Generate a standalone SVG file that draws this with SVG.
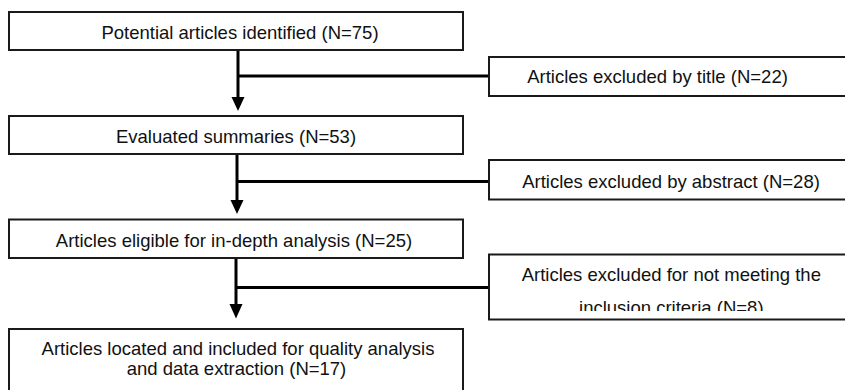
<svg xmlns="http://www.w3.org/2000/svg" width="845" height="390" viewBox="0 0 845 390">
  <defs>
    <style>
      .box { fill: #ffffff; stroke: #1a1a1a; stroke-width: 2; }
      .lbl { font-family: "Liberation Sans", Arial, sans-serif; font-size: 18.5px; fill: #111111; text-anchor: middle; }
      .conn { stroke: #000000; stroke-width: 3; fill: none; }
      .head { fill: #000000; stroke: none; }
    </style>
    <clipPath id="clipR3">
      <rect x="489" y="254" width="360" height="57"/>
    </clipPath>
  </defs>
  <rect width="845" height="390" fill="#ffffff"/>

  <g id="connectors">
    <line class="conn" x1="238" y1="50" x2="238" y2="98"/>
    <polygon class="head" points="231.5,97 244.5,97 238,111"/>
    <line class="conn" x1="238" y1="76" x2="489" y2="76"/>

    <line class="conn" x1="237" y1="154" x2="237" y2="201"/>
    <polygon class="head" points="230.5,200 243.5,200 237,214"/>
    <line class="conn" x1="237" y1="181.5" x2="489" y2="181.5"/>

    <line class="conn" x1="236" y1="258" x2="236" y2="305"/>
    <polygon class="head" points="229.5,304 242.5,304 236,318.5"/>
    <line class="conn" x1="236" y1="287.5" x2="489" y2="287.5"/>
  </g>

  <g id="node-identified">
    <rect class="box" x="9" y="12" width="454" height="38"/>
    <text class="lbl" x="240" y="39">Potential articles identified (N=75)</text>
  </g>

  <g id="node-summaries">
    <rect class="box" x="9" y="116" width="454" height="38"/>
    <text class="lbl" x="236" y="143">Evaluated summaries (N=53)</text>
  </g>

  <g id="node-eligible">
    <rect class="box" x="9" y="219.5" width="454" height="38.5"/>
    <text class="lbl" x="234" y="247">Articles eligible for in-depth analysis (N=25)</text>
  </g>

  <g id="node-included">
    <rect class="box" x="9" y="329" width="454" height="80"/>
    <text class="lbl" x="238" y="355">Articles located and included for quality analysis</text>
    <text class="lbl" x="236.5" y="375">and data extraction (N=17)</text>
  </g>

  <g id="node-excl-title">
    <rect class="box" x="489" y="57" width="380" height="39"/>
    <text class="lbl" x="657.5" y="83">Articles excluded by title (N=22)</text>
  </g>

  <g id="node-excl-abstract">
    <rect class="box" x="489" y="160" width="380" height="39.5"/>
    <text class="lbl" x="671" y="188">Articles excluded by abstract (N=28)</text>
  </g>

  <g id="node-excl-criteria">
    <rect class="box" x="489" y="254.5" width="380" height="65"/>
    <text class="lbl" x="671.3" y="281">Articles excluded for not meeting the</text>
    <text class="lbl" x="671.3" y="314" clip-path="url(#clipR3)">inclusion criteria (N=8)</text>
  </g>
</svg>
